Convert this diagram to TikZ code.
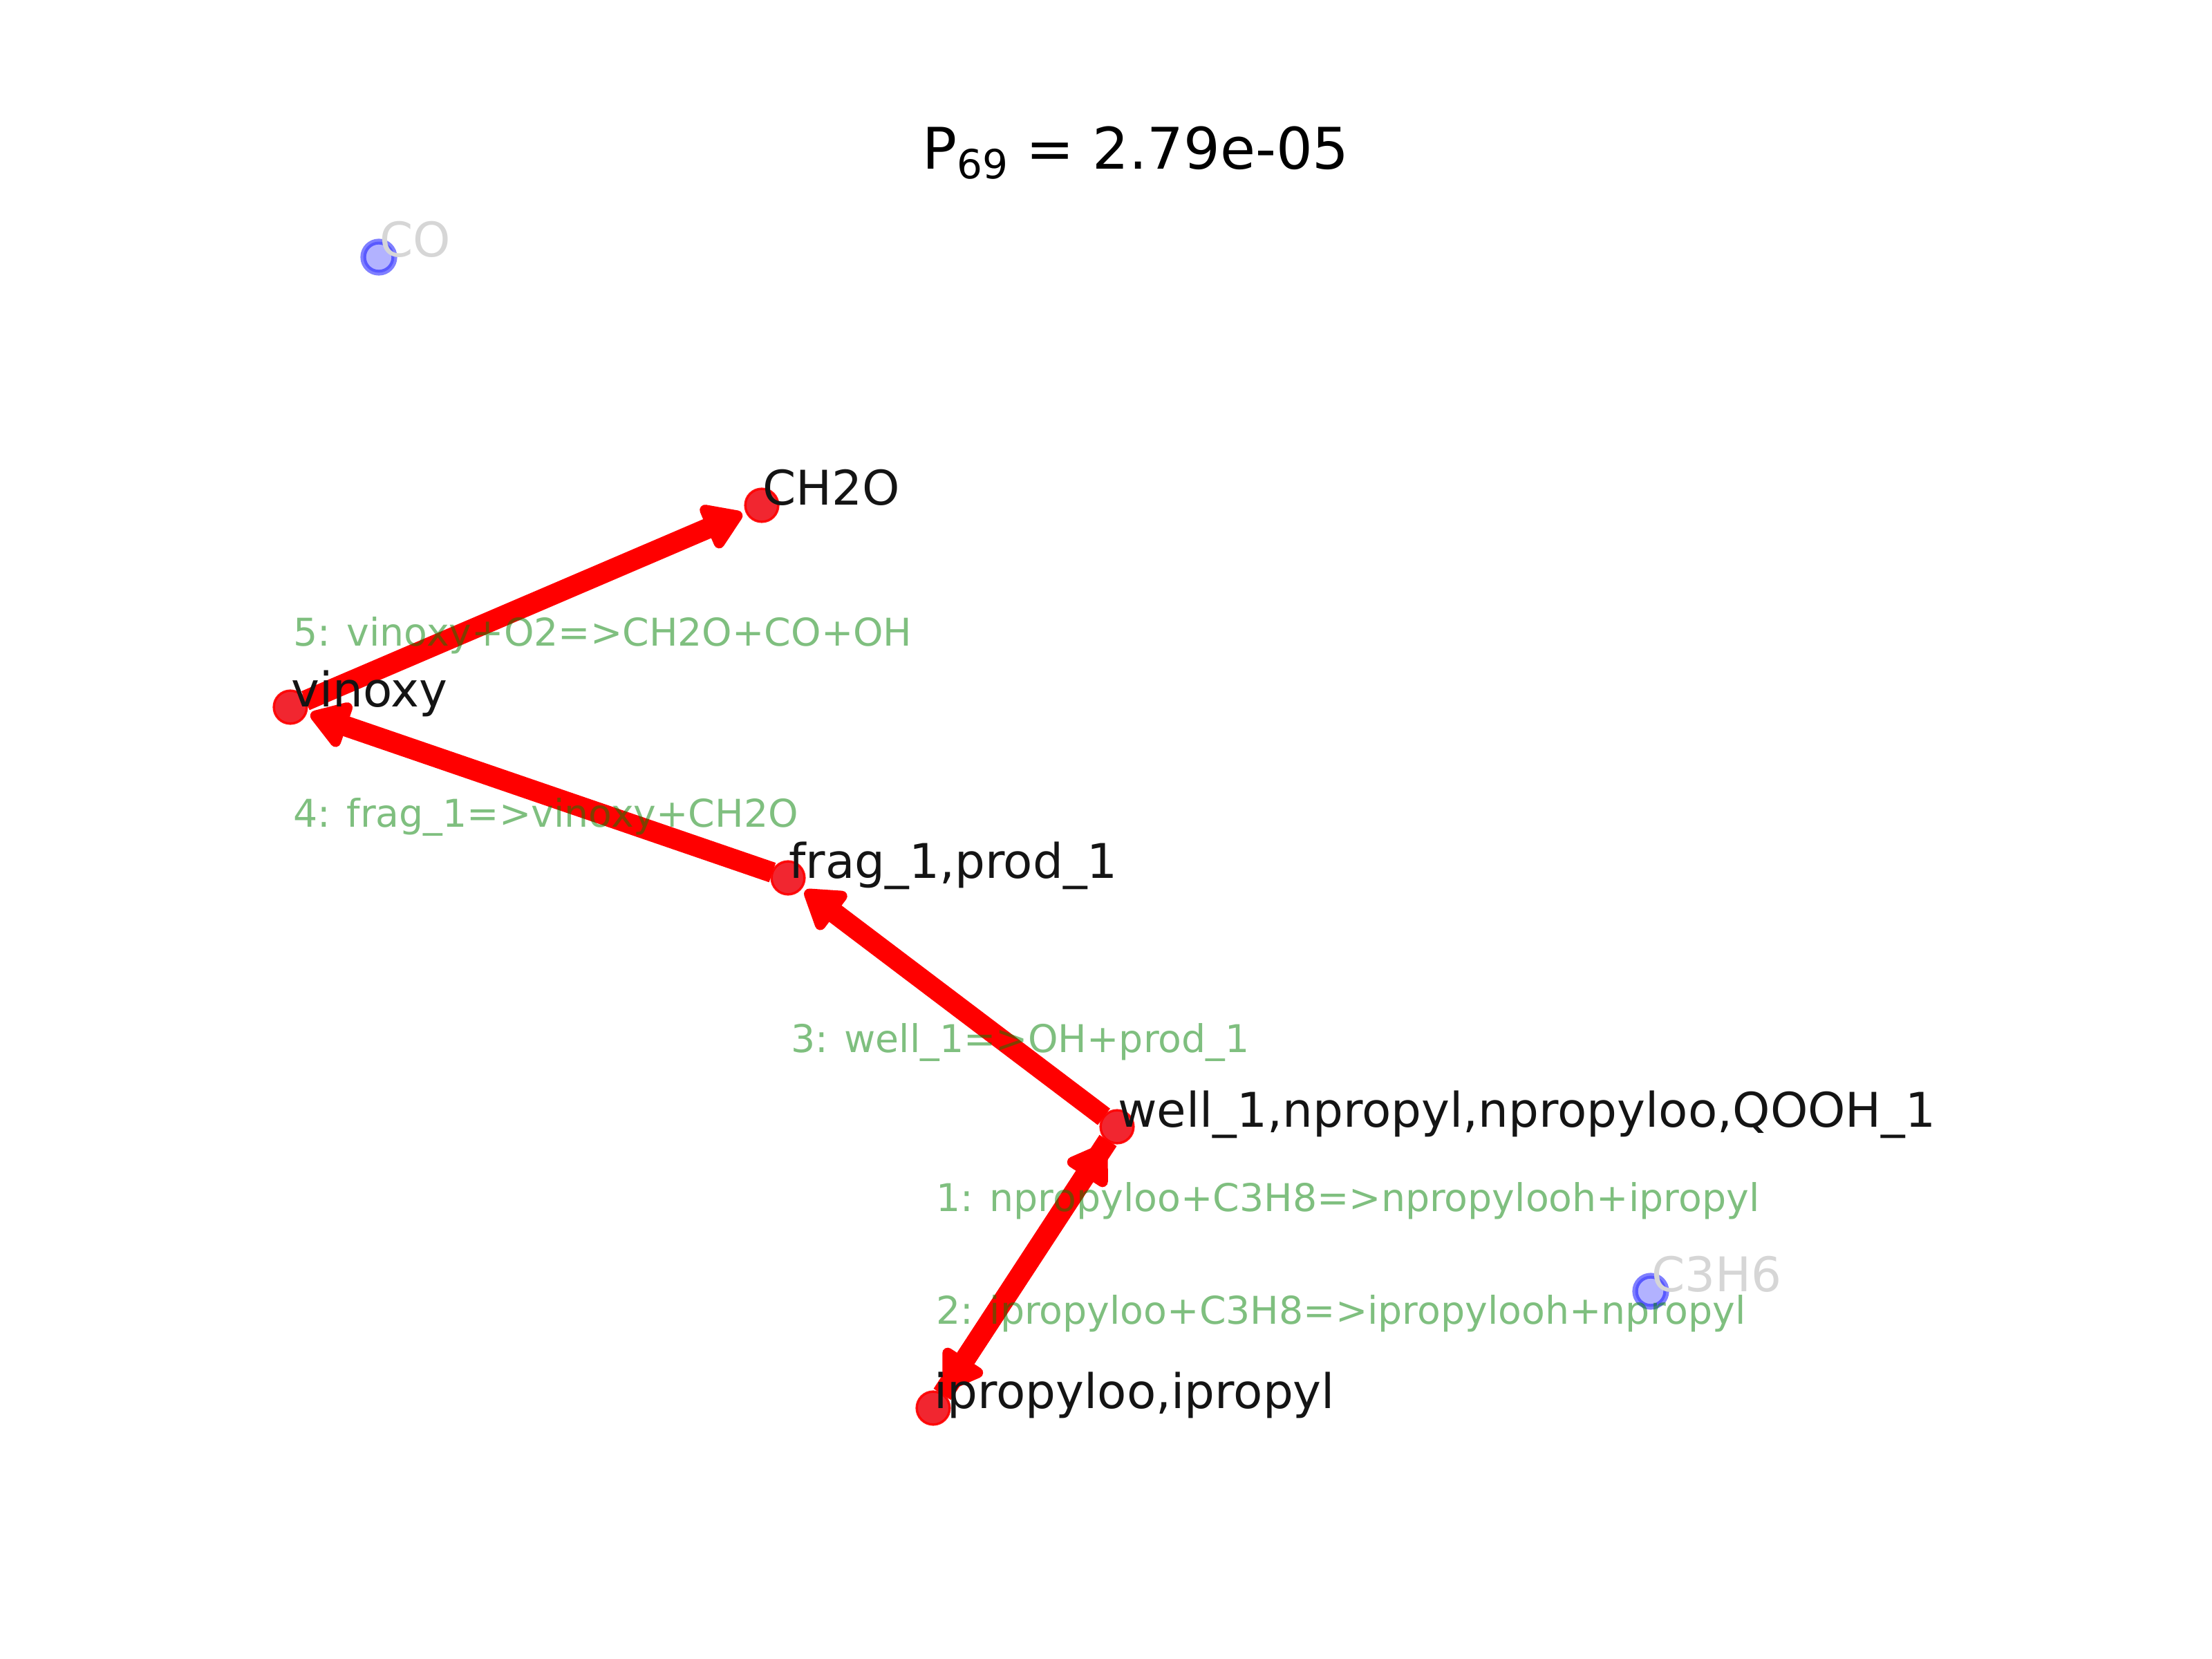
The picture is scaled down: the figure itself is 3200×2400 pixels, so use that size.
\documentclass[tikz,border=0pt]{standalone}
\usepackage{fontspec}
\setmainfont{DejaVu Sans}
\usetikzlibrary{arrows.meta,backgrounds}
\definecolor{rxngreen}{RGB}{0,128,0}
\definecolor{offgray}{RGB}{214,214,214}
\definecolor{dotred}{RGB}{240,20,30}
\begin{document}
\begin{tikzpicture}[x=0.00508cm, y=-0.00508cm,
  pathdot/.style={circle, fill=dotred, draw=red, opacity=0.92, line width=0.5pt, minimum size=6.9pt, inner sep=0pt, outer sep=0pt},
  offdot/.style={circle, fill=blue, fill opacity=0.3, draw=blue, draw opacity=0.5, line width=1.2pt, minimum size=6.5pt, inner sep=0pt, outer sep=0pt},
  splabel/.style={anchor=base west, inner sep=0pt, font=\fontsize{10pt}{12pt}\selectfont, text=black!92},
  offlabel/.style={splabel, text=offgray},
  rxnlabel/.style={anchor=base west, inner sep=0pt, font=\fontsize{8pt}{10pt}\selectfont, text=rxngreen, text opacity=0.5},
  flux/.style={red, line width=4.3pt, line join=round, -{Triangle[length=9pt, width=11pt, round]}, shorten >=1pt}]
\useasboundingbox (0,0) rectangle (3200,2400);

\node[anchor=base, inner sep=0pt, font=\fontsize{12pt}{14pt}\selectfont] (title) at (1643,245) {P\raisebox{-1.9pt}{\fontsize{8.4pt}{9pt}\selectfont 69} = 2.79e-05};

\node[offdot] (co) at (548,372) {};
\node[offdot] (c3h6) at (2388,1868) {};
\node[pathdot] (ch2o) at (1102,731) {};
\node[pathdot] (vinoxy) at (420,1023) {};
\node[pathdot] (frag) at (1140,1270) {};
\node[pathdot] (well) at (1616,1630) {};
\node[pathdot] (iprop) at (1350,2037) {};

\begin{pgfonlayer}{background}
\draw[flux] (well) -- (iprop);
\draw[flux] (iprop) -- (well);
\draw[flux] (well) -- (frag);
\draw[flux] (frag) -- (vinoxy);
\draw[flux] (vinoxy) -- (ch2o);
\end{pgfonlayer}

\node[offlabel] (co-lbl) at (co.center) {CO};
\node[offlabel] (c3h6-lbl) at (c3h6.center) {C3H6};
\node[splabel] (ch2o-lbl) at (ch2o.center) {CH2O};
\node[splabel] (vinoxy-lbl) at (vinoxy.center) {vinoxy};
\node[splabel] (frag-lbl) at (frag.center) {frag\_1,prod\_1};
\node[splabel] (well-lbl) at (well.center) {well\_1,npropyl,npropyloo,QOOH\_1};
\node[splabel] (iprop-lbl) at (iprop.center) {ipropyloo,ipropyl};

\node[rxnlabel] (rxn5) at (423,935) {5: vinoxy+O2=>CH2O+CO+OH};
\node[rxnlabel] (rxn4) at (423,1197) {4: frag\_1=>vinoxy+CH2O};
\node[rxnlabel] (rxn3) at (1143,1522) {3: well\_1=>OH+prod\_1};
\node[rxnlabel] (rxn1) at (1353,1752) {1: npropyloo+C3H8=>npropylooh+ipropyl};
\node[rxnlabel] (rxn2) at (1353,1915) {2: ipropyloo+C3H8=>ipropylooh+npropyl};
\end{tikzpicture}
\end{document}
